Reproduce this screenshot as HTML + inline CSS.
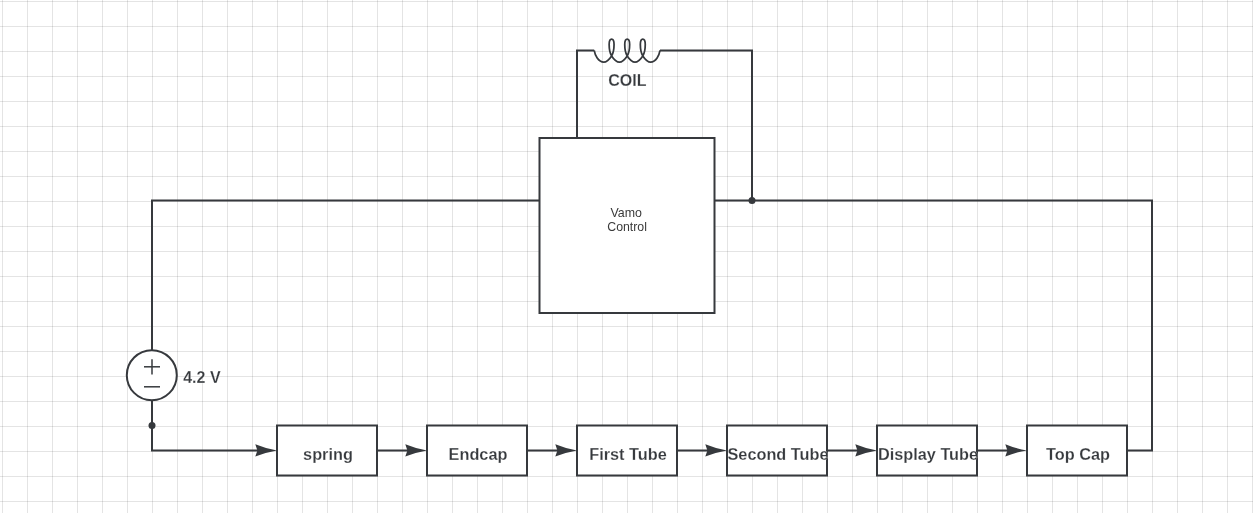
<!DOCTYPE html>
<html><head><meta charset="utf-8">
<style>
html,body{margin:0;padding:0;background:#fff;}
body{width:1253px;height:513px;overflow:hidden;position:relative;}
svg{position:absolute;left:0;top:0;will-change:transform;}
text{font-family:"Liberation Sans",sans-serif;fill:#36393d;stroke:#fff;stroke-width:0.3px;stroke-opacity:0.6;}
.b{font-weight:bold;font-size:16.3px;}
</style></head><body>
<svg width="1253" height="513" viewBox="0 0 1253 513">
<defs>
<pattern id="g" x="2" y="1" width="25" height="25" patternUnits="userSpaceOnUse">
<rect x="0" y="0" width="1" height="25" fill="rgba(0,0,0,0.105)"/>
<rect x="0" y="0" width="25" height="1" fill="rgba(0,0,0,0.105)"/>
</pattern>
</defs>
<rect x="0" y="0" width="1253" height="513" fill="url(#g)"/>
<g fill="none" stroke="#36393d" stroke-width="2">
<!-- left loop -->
<polyline points="539.5,200.4 152,200.4 152,350"/>
<polyline points="152,400 152,450.4 267,450.4"/>
<!-- right -->
<polyline points="714.5,200.4 1152,200.4 1152,450.4 1127,450.4"/>
<!-- coil wires -->
<polyline points="577,138 577,50.4 594.2,50.4"/>
<polyline points="660,50.4 752,50.4 752,200.4"/>
<path stroke-width="1.75" d="M594.2,50.4 C595,55.2 598.2,62.1 603.8,62.1 C607.3,62.1 610.1,58.2 611.6,55.9 C613.1,53.6 614.05,48.5 614.05,44.6 C614.05,41 612.95,39.2 611.6,39.2 C610.25,39.2 609.15,41 609.15,44.6 C609.15,48.5 610.1,53.6 611.6,55.9 C613.1,58.2 615.9,62.1 619.4,62.1 C622.9,62.1 625.7,58.2 627.2,55.9 C628.7,53.6 629.65,48.5 629.65,44.6 C629.65,41 628.55,39.2 627.2,39.2 C625.85,39.2 624.75,41 624.75,44.6 C624.75,48.5 625.7,53.6 627.2,55.9 C628.7,58.2 631.5,62.1 635,62.1 C638.5,62.1 641.3,58.2 642.8,55.9 C644.3,53.6 645.25,48.5 645.25,44.6 C645.25,41 644.15,39.2 642.8,39.2 C641.45,39.2 640.35,41 640.35,44.6 C640.35,48.5 641.3,53.6 642.8,55.9 C644.3,58.2 647.1,62.1 650.6,62.1 C656.2,62.1 659.2,55.2 660,50.4"/>
<!-- chain connectors -->
<line x1="377" y1="450.4" x2="417" y2="450.4"/>
<line x1="527" y1="450.4" x2="567" y2="450.4"/>
<line x1="677" y1="450.4" x2="717" y2="450.4"/>
<line x1="827" y1="450.4" x2="867" y2="450.4"/>
<line x1="977" y1="450.4" x2="1017" y2="450.4"/>
</g>
<!-- boxes -->
<g fill="#fff" stroke="#36393d" stroke-width="2">
<rect x="539.5" y="138" width="175" height="175"/>
<rect x="277" y="425.5" width="100" height="50"/>
<rect x="427" y="425.5" width="100" height="50"/>
<rect x="577" y="425.5" width="100" height="50"/>
<rect x="727" y="425.5" width="100" height="50"/>
<rect x="877" y="425.5" width="100" height="50"/>
<rect x="1027" y="425.5" width="100" height="50"/>
<circle cx="151.8" cy="375.2" r="25"/>
</g>
<!-- battery signs -->
<g stroke="#36393d" stroke-width="1.5" fill="none">
<line x1="144" y1="366.8" x2="160" y2="366.8"/>
<line x1="152" y1="359.2" x2="152" y2="374.5"/>
<line x1="144" y1="386.8" x2="160" y2="386.8"/>
</g>
<!-- dots -->
<circle cx="752" cy="200.5" r="3.5" fill="#36393d"/>
<circle cx="152" cy="425.5" r="3.5" fill="#36393d"/>
<!-- arrows -->
<g fill="#36393d" stroke="none">
<path d="M277,450.4 Q266.5,448.8 255.3,444.2 L257.4,450.4 L255.3,456.6 Q266.5,452.0 277,450.4 Z"/>
<path d="M427,450.4 Q416.5,448.8 405.3,444.2 L407.4,450.4 L405.3,456.6 Q416.5,452.0 427,450.4 Z"/>
<path d="M577,450.4 Q566.5,448.8 555.3,444.2 L557.4,450.4 L555.3,456.6 Q566.5,452.0 577,450.4 Z"/>
<path d="M727,450.4 Q716.5,448.8 705.3,444.2 L707.4,450.4 L705.3,456.6 Q716.5,452.0 727,450.4 Z"/>
<path d="M877,450.4 Q866.5,448.8 855.3,444.2 L857.4,450.4 L855.3,456.6 Q866.5,452.0 877,450.4 Z"/>
<path d="M1027,450.4 Q1016.5,448.8 1005.3,444.2 L1007.4,450.4 L1005.3,456.6 Q1016.5,452.0 1027,450.4 Z"/>
</g>
<!-- labels -->
<text x="627.4" y="85.8" text-anchor="middle" font-weight="bold" font-size="16">COIL</text>
<text x="183.2" y="383" font-weight="bold" font-size="16">4.2 V</text>
<text x="626.2" y="216.8" text-anchor="middle" font-size="12.4" style="stroke:none;fill:#3a3a3a">Vamo</text>
<text x="627.1" y="230.9" text-anchor="middle" font-size="12.3" style="stroke:none;fill:#3a3a3a">Control</text>
<text class="b" x="328" y="459.6" text-anchor="middle">spring</text>
<text class="b" x="478" y="459.6" text-anchor="middle">Endcap</text>
<text class="b" x="628" y="459.6" text-anchor="middle">First Tube</text>
<text class="b" x="778" y="459.6" text-anchor="middle">Second Tube</text>
<text class="b" x="928" y="459.6" text-anchor="middle">Display Tube</text>
<text class="b" x="1078" y="459.6" text-anchor="middle">Top Cap</text>
</svg>
</body></html>
